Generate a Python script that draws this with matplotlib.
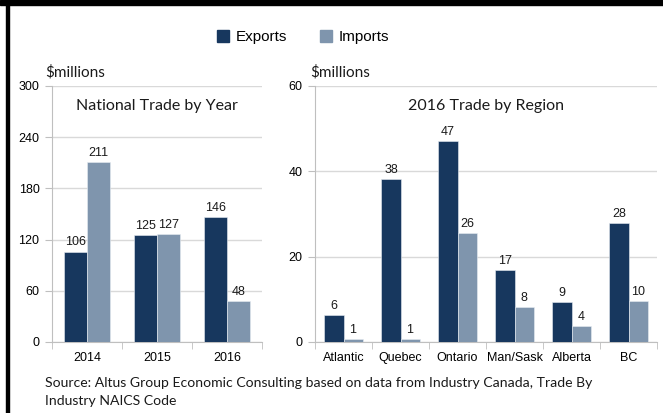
import matplotlib.pyplot as plt
import numpy as np
from matplotlib.patches import Rectangle

years = ["2014", "2015", "2016"]
year_exports = [106, 125, 146]
year_imports = [211, 127, 48]

regions = ["Atlantic", "Quebec", "Ontario", "Man/Sask", "Alberta", "BC"]
region_exports = [6.4, 38.2, 47.1, 16.9, 9.3, 27.8]
region_imports = [0.6, 0.6, 25.6, 8.1, 3.8, 9.7]
region_export_labels = ["6", "38", "47", "17", "9", "28"]
region_import_labels = ["1", "1", "26", "8", "4", "10"]

dark = "#17375e"
light = "#7f95ad"
grid_c = "#d9d9d9"
axis_c = "#bfbfbf"
tick_font = "Liberation Sans"
text_font = "Lato"

fig = plt.figure(figsize=(6.63, 4.13), dpi=100)
W, H = 663, 413


def box(x0, x1, y_top, y_bot):
    return [x0 / W, 1 - y_bot / H, (x1 - x0) / W, (y_bot - y_top) / H]


def draw(ax, cats, exp, imp, exp_lab, imp_lab, ymax, step, title):
    x = np.arange(len(cats))
    w = 0.335
    ax.bar(x - w / 2, exp, w, color=dark, edgecolor="#e8edf3", linewidth=0.4, zorder=3)
    ax.bar(x + w / 2, imp, w, color=light, edgecolor="#e8edf3", linewidth=0.4, zorder=3)
    off = ymax * 0.012
    for i in range(len(cats)):
        ax.text(x[i] - w / 2, exp[i] + off, exp_lab[i], ha="center", va="bottom",
                fontsize=9, family=tick_font, color="#1a1a1a")
        ax.text(x[i] + w / 2, imp[i] + off, imp_lab[i], ha="center", va="bottom",
                fontsize=9, family=tick_font, color="#1a1a1a")
    ax.set_xlim(-0.5, len(cats) - 0.5)
    ax.set_ylim(0, ymax)
    ax.set_yticks(np.arange(0, ymax + 1, step))
    ax.yaxis.grid(True, color=grid_c, linewidth=1, zorder=0)
    ax.set_axisbelow(True)
    for s in ["top", "right"]:
        ax.spines[s].set_visible(False)
    ax.spines["left"].set_color(axis_c)
    ax.spines["bottom"].set_color(axis_c)
    ax.set_xticks(x)
    ax.set_xticklabels(cats, family=tick_font, fontsize=9)
    ax.tick_params(axis="x", length=0, pad=7)
    ax.set_xticks(np.arange(len(cats) + 1) - 0.5, minor=True)
    ax.tick_params(axis="x", which="minor", length=5, color=axis_c)
    ax.tick_params(axis="y", length=5, color=axis_c, pad=4)
    for lab in ax.get_yticklabels():
        lab.set_family(tick_font)
        lab.set_fontsize(9)
    ax.text(0.5, 0.92, title, transform=ax.transAxes, ha="center", va="center",
            fontsize=11.5, family=text_font, color="#1a1a1a", zorder=5)


ax1 = fig.add_axes(box(52, 262, 86, 342))
draw(ax1, years, year_exports, year_imports,
     [str(v) for v in year_exports], [str(v) for v in year_imports],
     300, 60, "National Trade by Year")

ax2 = fig.add_axes(box(315, 657, 86, 342))
draw(ax2, regions, region_exports, region_imports,
     region_export_labels, region_import_labels, 60, 20, "2016 Trade by Region")

fig.text(45 / W, 1 - 72 / H, "$millions", fontsize=11, family=text_font,
         ha="left", va="center", color="#1a1a1a")
fig.text(310 / W, 1 - 72 / H, "$millions", fontsize=11, family=text_font,
         ha="left", va="center", color="#1a1a1a")

# legend
fig.legend(handles=[Rectangle((0, 0), 1, 1, color=dark), Rectangle((0, 0), 1, 1, color=light)],
           labels=["Exports", "Imports"], loc="center", bbox_to_anchor=(303 / W, 1 - 37 / H),
           ncol=2, frameon=False, handlelength=0.8, handleheight=0.8, handletextpad=0.4,
           columnspacing=2.2, prop={"family": tick_font, "size": 11})

fig.text(45 / W, 1 - 383 / H,
         "Source: Altus Group Economic Consulting based on data from Industry Canada, Trade By",
         fontsize=10.1, family=text_font, ha="left", va="center", color="#1a1a1a")
fig.text(45 / W, 1 - 401 / H, "Industry NAICS Code",
         fontsize=10.1, family=text_font, ha="left", va="center", color="#1a1a1a")

# black frame on top and left
fig.add_artist(Rectangle((0, 1 - 5 / H), 1, 5 / H, transform=fig.transFigure,
                         color="black", zorder=10))
fig.add_artist(Rectangle((6 / W, 0), 3 / W, 1, transform=fig.transFigure,
                         color="black", zorder=10))

fig.savefig("out.png", dpi=100)
